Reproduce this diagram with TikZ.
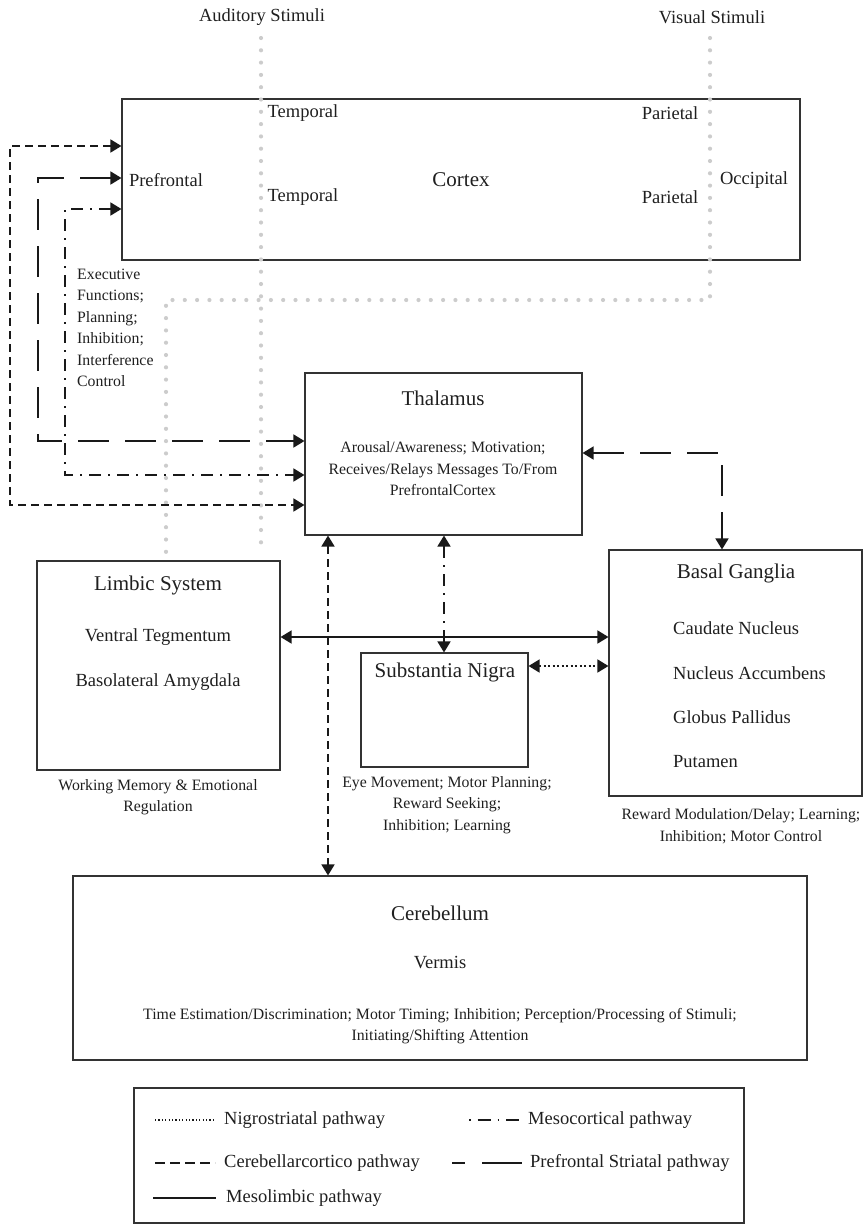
\documentclass[tikz,border=0pt]{standalone}
\usepackage{fontspec}
\setmainfont{Liberation Serif}
\usetikzlibrary{arrows.meta}
\newcommand\fsbig{\fontsize{21}{24}\selectfont}
\newcommand\fsmid{\fontsize{18.5}{22}\selectfont}
\newcommand\fssmall{\fontsize{15.8}{21.5}\selectfont}
\begin{document}
\begin{tikzpicture}[x=1pt,y=-1pt,
  every node/.style={text=black!88},
  box/.style={draw=black!80, line width=1.1pt, inner sep=0pt},
  conn/.style={line width=1.6pt, draw=black!90, >={Triangle[length=11pt,width=13pt]}},
  cc/.style={conn, dash pattern=on 8pt off 5pt},
  ps/.style={conn, dash pattern=on 31pt off 16pt},
  mc/.style={conn, dash pattern=on 12pt off 7pt on 2pt off 7pt},
  ns/.style={conn, dash pattern=on 2pt off 2.5pt},
  ml/.style={conn},
  stim/.style={draw=black!20, line width=4.2pt, line cap=round, dash pattern=on 0pt off 12.3pt},
  big/.style={font=\fsbig},
  mid/.style={font=\fsmid},
  small/.style={font=\fssmall, align=center}
]
\useasboundingbox (0,0) rectangle (863,1224);

% boxes
\node[box, minimum width=678pt, minimum height=161pt] (cortex) at (461,179.5) {};
\node[box, minimum width=277pt, minimum height=162pt] (thal) at (443.5,454) {};
\node[box, minimum width=243pt, minimum height=209pt] (limbic) at (158.5,665.5) {};
\node[box, minimum width=167pt, minimum height=114pt] (sn) at (444.5,710) {};
\node[box, minimum width=253pt, minimum height=246pt] (bg) at (735.5,673) {};
\node[box, minimum width=734pt, minimum height=184pt] (cereb) at (440,968) {};
\node[box, minimum width=610pt, minimum height=135pt] (legend) at (439,1155.5) {};

% stimuli
\node[mid] (aud) at (262,17) {Auditory Stimuli};
\node[mid] (vis) at (712,17) {Visual Stimuli};
\draw[stim] (261,38) -- (261,552);
\draw[stim] (710,38) -- (710,300) -- (166,300) -- (166,552);

% cortex labels
\node[big] (cortexlbl) at (461,180) {Cortex};
\node[mid] (pref) at (166,180) {Prefrontal};
\node[mid] (occ) at (754,180) {Occipital};
\node[mid] (temp1) at (303,113) {Temporal};
\node[mid] (temp2) at (303,197) {Temporal};
\node[mid] (par1) at (670,113) {Parietal};
\node[mid] (par2) at (670,197) {Parietal};

\node[font=\fssmall, align=left, anchor=west, inner sep=0pt] (exec) at (77,328)
  {Executive\\Functions;\\Planning;\\Inhibition;\\Interference\\Control};

% thalamus
\node[big] (thallbl) at (443,398) {Thalamus};
\node[small] (thaltxt) at (443,469) {Arousal/Awareness; Motivation;\\Receives/Relays Messages To/From\\PrefrontalCortex};

% limbic
\node[big] (limbiclbl) at (158,585) {Limbic System};
\node[mid] (vt) at (158,637) {Ventral Tegmentum};
\node[mid] (ba) at (158,682) {Basolateral Amygdala};
\node[small] (limbictxt) at (158,797) {Working Memory \& Emotional\\Regulation};

% substantia nigra
\node[big] (snlbl) at (445,672) {Substantia Nigra};
\node[small] (sntxt) at (447,805) {Eye Movement; Motor Planning;\\Reward Seeking;\\Inhibition; Learning};

% basal ganglia
\node[big] (bglbl) at (736,573) {Basal Ganglia};
\node[mid, anchor=west, inner sep=0pt] (cn) at (673,628) {Caudate Nucleus};
\node[mid, anchor=west, inner sep=0pt] (na) at (673,673) {Nucleus Accumbens};
\node[mid, anchor=west, inner sep=0pt] (gp) at (673,717) {Globus Pallidus};
\node[mid, anchor=west, inner sep=0pt] (pu) at (673,762) {Putamen};
\node[small] (bgtxt) at (741,826) {Reward Modulation/Delay; Learning;\\Inhibition; Motor Control};

% cerebellum
\node[big] (cereblbl) at (440,913) {Cerebellum};
\node[mid] (vermis) at (440,963) {Vermis};
\node[small] (cerebtxt) at (440,1026) {Time Estimation/Discrimination; Motor Timing; Inhibition; Perception/Processing of Stimuli;\\Initiating/Shifting Attention};

% connectors
\draw[cc,<->] (cortex.west |- 0,146) -| (10,505) -- (thal.west |- 0,505);
\draw[ps,<->] (cortex.west |- 0,178) -| (38,441) -- (thal.west |- 0,441);
\draw[mc,<->] (cortex.west |- 0,209) -| (65,475) -- (thal.west |- 0,475);
\draw[ps,<->] (thal.east |- 0,453) -| (722,0 |- bg.north);
\draw[mc,<->] (thal.south -| 444,0) -- (sn.north -| 444,0);
\draw[cc,<->] (328,0 |- thal.south) -- (328,0 |- cereb.north);
\draw[ml,<->] (limbic.east |- 0,637) -- (bg.west |- 0,637);
\draw[ns,<->] (sn.east |- 0,666) -- (bg.west |- 0,666);

% legend
\draw[conn, line width=1.3pt, dash pattern=on 1.2pt off 2.2pt] (155,1120) -- (215,1120);
\node[mid, anchor=west, inner sep=0pt] (l1) at (224,1120) {Nigrostriatal pathway};
\draw[conn, line width=1.4pt, dash pattern=on 1.5pt off 7pt on 13pt off 7pt] (469,1120) -- (521,1120);
\node[mid, anchor=west, inner sep=0pt] (l2) at (528,1120) {Mesocortical pathway};
\draw[conn, line width=1.4pt, dash pattern=on 10pt off 5pt] (155,1163) -- (215,1163);
\node[mid, anchor=west, inner sep=0pt] (l3) at (224,1163) {Cerebellarcortico pathway};
\draw[conn, line width=1.4pt, dash pattern=on 13pt off 17pt on 40pt off 5pt] (452,1163) -- (522,1163);
\node[mid, anchor=west, inner sep=0pt] (l4) at (530,1163) {Prefrontal Striatal pathway};
\draw[conn, line width=1.4pt] (153,1198) -- (216,1198);
\node[mid, anchor=west, inner sep=0pt] (l5) at (226,1198) {Mesolimbic pathway};
\end{tikzpicture}
\end{document}
